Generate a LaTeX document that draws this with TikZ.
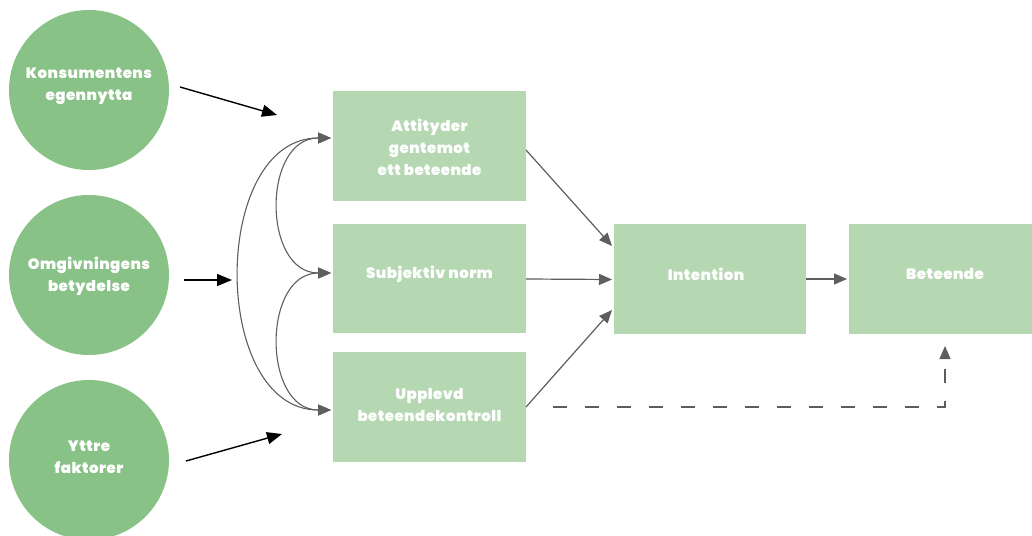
\documentclass[tikz,border=0pt]{standalone}
\usepackage{fontspec}
\setmainfont{Poppins}[BoldFont={Poppins Black}, LetterSpace=3]
\usetikzlibrary{arrows.meta}
\definecolor{circfill}{HTML}{88C287}
\definecolor{boxfill}{HTML}{B5D8B3}
\definecolor{arrgray}{HTML}{5E5E5E}
\tikzset{
  x=1pt, y=-1pt,
  circ/.style={circle, fill=circfill, minimum size=160pt, inner sep=0pt},
  stepbox/.style={rectangle, fill=boxfill, inner sep=0pt, anchor=north west},
  lbl/.style={text=white, font=\bfseries\fontsize{15}{22}\selectfont, align=center, inner sep=0pt},
  blackarr/.style={line width=1.4pt, draw=black, -{Triangle[length=15pt, width=12pt]}},
  grayarr/.style={line width=1.2pt, draw=arrgray, -{Triangle[length=13pt, width=11pt]}},
  graydbl/.style={line width=1.1pt, draw=arrgray, {Triangle[length=13pt, width=11pt]}-{Triangle[length=13pt, width=11pt]}},
  dasharr/.style={line width=1.1pt, draw=arrgray, dash pattern=on 14pt off 18pt, -{Triangle[length=13pt, width=11pt]}}
}
\begin{document}
\begin{tikzpicture}
\useasboundingbox (0,0) rectangle (1032,535);
% circles
\node[circ] (c1) at (89,90) {};
\node[circ] (c2) at (89,275) {};
\node[circ] (c3) at (89,460) {};
\node[lbl] (t1) at (89,86) {Konsumentens\\egennytta};
\node[lbl] (t2) at (89,276) {Omgivningens\\betydelse};
\node[lbl] (t3) at (89,457) {Yttre\\faktorer};
% boxes
\node[stepbox, minimum width=193pt, minimum height=110pt] (bA) at (333,91) {};
\node[stepbox, minimum width=193pt, minimum height=109pt] (bB) at (333,224) {};
\node[stepbox, minimum width=193pt, minimum height=110pt] (bC) at (333,352) {};
\node[stepbox, minimum width=192pt, minimum height=110pt] (bI) at (614,224) {};
\node[stepbox, minimum width=183pt, minimum height=110pt] (bD) at (849,224) {};
\node[lbl] (tA) at (429.5,147) {Attityder\\gentemot\\ett beteende};
\node[lbl] (tB) at (429.5,274) {Subjektiv norm};
\node[lbl] (tC) at (429.5,405) {Upplevd\\beteendekontroll};
\node[lbl] (tI) at (706,274) {Intention};
\node[lbl] (tD) at (945,274) {Beteende};
% black arrows
\coordinate (s1) at (180,87); \coordinate (e1) at (277,115);
\coordinate (s2) at (184,280); \coordinate (e2) at (232,280);
\coordinate (s3) at (186,461); \coordinate (e3) at (282,434);
\draw[blackarr] (s1) -- (e1);
\draw[blackarr] (s2) -- (e2);
\draw[blackarr] (s3) -- (e3);
% curved double arrows
\coordinate (pA) at (331,138);
\coordinate (pB) at (331,273);
\coordinate (pC) at (331,410);
\draw[graydbl] (pA) .. controls (210,138) and (210,410) .. (pC);
\draw[graydbl] (pA) .. controls (262,138) and (262,273) .. (pB);
\draw[graydbl] (pB) .. controls (262,273) and (262,410) .. (pC);
% to intention
\coordinate (qA) at (526,150); \coordinate (rA) at (612,246);
\coordinate (qB) at (526,279); \coordinate (rB) at (612,279.5);
\coordinate (qC) at (526,407); \coordinate (rC) at (612,310);
\draw[grayarr] (qA) -- (rA);
\draw[grayarr] (qB) -- (rB);
\draw[grayarr] (qC) -- (rC);
\coordinate (iE) at (806,279); \coordinate (dW) at (847,279);
\draw[grayarr] (iE) -- (dW);
% dashed feedback
\coordinate (d0) at (553,407);
\coordinate (d1) at (945,407);
\coordinate (d2) at (945,346);
\draw[dasharr] (d0) -- (d1) -- (d2);
\end{tikzpicture}
\end{document}
